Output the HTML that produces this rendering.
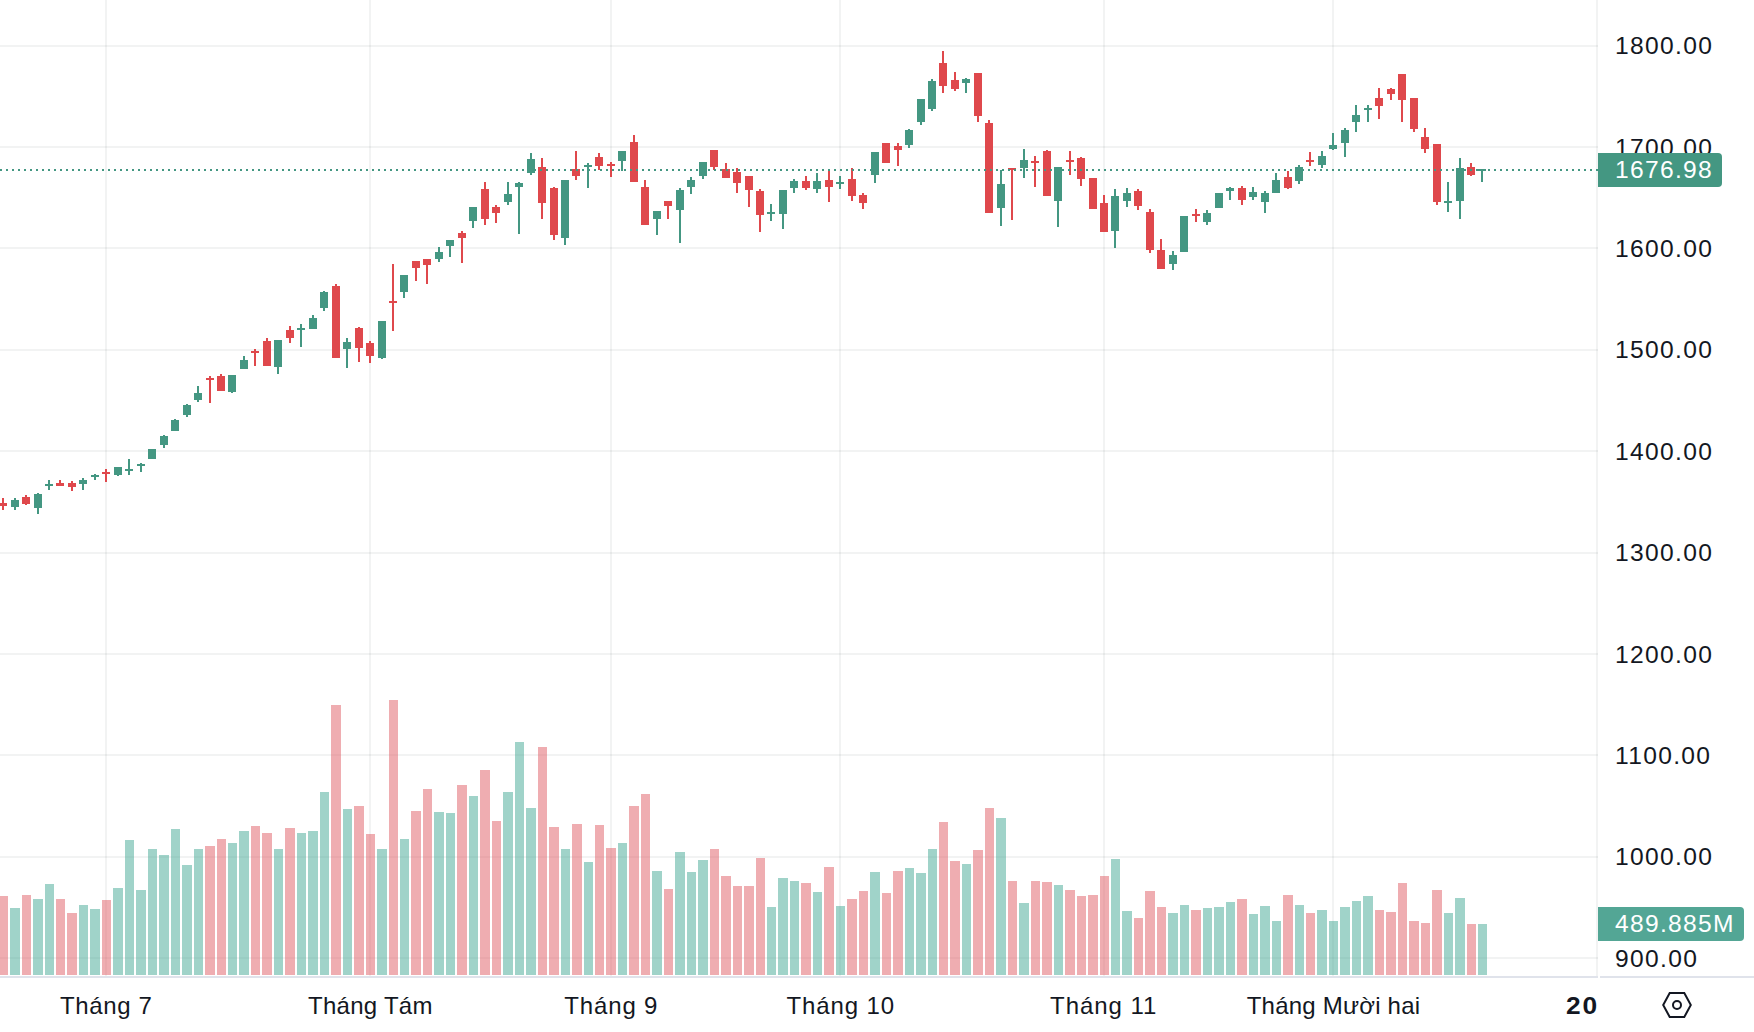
<!DOCTYPE html>
<html lang="vi"><head><meta charset="utf-8"><title>Chart</title>
<style>
html,body{margin:0;padding:0;background:#fff;}
body{width:1754px;height:1032px;position:relative;overflow:hidden;font-family:"Liberation Sans",Arial,sans-serif;color:#131722;}
.pl{position:absolute;left:1615.1px;height:30px;line-height:30px;font-size:24.6px;letter-spacing:1.31px;white-space:nowrap;}
.tl{position:absolute;top:991px;width:300px;text-align:center;height:30px;line-height:30px;font-size:24px;letter-spacing:0.6px;white-space:nowrap;}
.box{position:absolute;left:1598px;height:34px;line-height:34px;border-radius:0 4px 4px 0;color:#fff;font-size:24.6px;letter-spacing:1.31px;white-space:nowrap;box-sizing:border-box;padding-left:17px;}
.b1{top:153px;width:124px;background:rgb(68,151,130);}
.b2{top:907px;width:146px;background:rgb(83,166,149);}
.yr{position:absolute;top:991px;left:1566px;height:30px;line-height:30px;font-size:24.6px;font-weight:bold;letter-spacing:1.8px;transform:scaleX(1.07);transform-origin:0 50%;white-space:nowrap;}
</style></head><body>
<svg width="1754" height="1032" viewBox="0 0 1754 1032" shape-rendering="crispEdges" style="position:absolute;left:0;top:0">
<g fill="rgba(42,46,57,0.06)">
<rect x="0" y="45" width="1598" height="2"/>
<rect x="0" y="146" width="1598" height="2"/>
<rect x="0" y="247" width="1598" height="2"/>
<rect x="0" y="349" width="1598" height="2"/>
<rect x="0" y="450" width="1598" height="2"/>
<rect x="0" y="552" width="1598" height="2"/>
<rect x="0" y="653" width="1598" height="2"/>
<rect x="0" y="754" width="1598" height="2"/>
<rect x="0" y="856" width="1598" height="2"/>
<rect x="0" y="957" width="1598" height="2"/>
<rect x="105" y="0" width="2" height="976"/>
<rect x="369" y="0" width="2" height="976"/>
<rect x="610" y="0" width="2" height="976"/>
<rect x="839" y="0" width="2" height="976"/>
<rect x="1103" y="0" width="2" height="976"/>
<rect x="1332" y="0" width="2" height="976"/>
</g>
<g fill="rgba(65,167,147,0.5)"><rect x="10" y="908" width="10" height="67"/><rect x="33" y="899" width="10" height="76"/><rect x="45" y="884" width="9" height="91"/><rect x="79" y="905" width="9" height="70"/><rect x="90" y="909" width="10" height="66"/><rect x="113" y="888" width="10" height="87"/><rect x="125" y="840" width="9" height="135"/><rect x="136" y="890" width="10" height="85"/><rect x="148" y="849" width="9" height="126"/><rect x="159" y="855" width="10" height="120"/><rect x="171" y="829" width="9" height="146"/><rect x="182" y="865" width="10" height="110"/><rect x="194" y="849" width="9" height="126"/><rect x="228" y="843" width="9" height="132"/><rect x="239" y="831" width="10" height="144"/><rect x="274" y="849" width="9" height="126"/><rect x="297" y="833" width="9" height="142"/><rect x="308" y="831" width="10" height="144"/><rect x="320" y="792" width="9" height="183"/><rect x="343" y="809" width="9" height="166"/><rect x="377" y="849" width="10" height="126"/><rect x="400" y="839" width="9" height="136"/><rect x="434" y="812" width="10" height="163"/><rect x="446" y="813" width="9" height="162"/><rect x="469" y="796" width="9" height="179"/><rect x="503" y="792" width="10" height="183"/><rect x="515" y="742" width="9" height="233"/><rect x="526" y="808" width="10" height="167"/><rect x="561" y="849" width="9" height="126"/><rect x="584" y="862" width="9" height="113"/><rect x="618" y="843" width="9" height="132"/><rect x="652" y="871" width="10" height="104"/><rect x="675" y="852" width="10" height="123"/><rect x="687" y="872" width="9" height="103"/><rect x="698" y="860" width="10" height="115"/><rect x="767" y="907" width="9" height="68"/><rect x="778" y="878" width="10" height="97"/><rect x="790" y="881" width="9" height="94"/><rect x="813" y="892" width="9" height="83"/><rect x="836" y="906" width="9" height="69"/><rect x="870" y="872" width="10" height="103"/><rect x="905" y="868" width="9" height="107"/><rect x="916" y="873" width="10" height="102"/><rect x="928" y="849" width="9" height="126"/><rect x="962" y="864" width="9" height="111"/><rect x="996" y="818" width="10" height="157"/><rect x="1019" y="903" width="10" height="72"/><rect x="1054" y="885" width="9" height="90"/><rect x="1111" y="859" width="9" height="116"/><rect x="1122" y="911" width="10" height="64"/><rect x="1168" y="913" width="10" height="62"/><rect x="1180" y="905" width="9" height="70"/><rect x="1203" y="908" width="9" height="67"/><rect x="1214" y="907" width="10" height="68"/><rect x="1226" y="902" width="9" height="73"/><rect x="1249" y="914" width="9" height="61"/><rect x="1260" y="906" width="10" height="69"/><rect x="1272" y="921" width="9" height="54"/><rect x="1295" y="905" width="9" height="70"/><rect x="1317" y="910" width="10" height="65"/><rect x="1329" y="921" width="9" height="54"/><rect x="1340" y="907" width="10" height="68"/><rect x="1352" y="901" width="9" height="74"/><rect x="1363" y="896" width="10" height="79"/><rect x="1444" y="913" width="9" height="62"/><rect x="1455" y="898" width="10" height="77"/><rect x="1478" y="924" width="9" height="51"/></g>
<g fill="rgba(223,91,99,0.5)"><rect x="-1" y="896" width="9" height="79"/><rect x="22" y="895" width="9" height="80"/><rect x="56" y="899" width="9" height="76"/><rect x="67" y="913" width="10" height="62"/><rect x="102" y="900" width="9" height="75"/><rect x="205" y="846" width="10" height="129"/><rect x="217" y="839" width="9" height="136"/><rect x="251" y="826" width="9" height="149"/><rect x="262" y="833" width="10" height="142"/><rect x="285" y="828" width="10" height="147"/><rect x="331" y="705" width="10" height="270"/><rect x="354" y="806" width="10" height="169"/><rect x="366" y="834" width="9" height="141"/><rect x="389" y="700" width="9" height="275"/><rect x="411" y="811" width="10" height="164"/><rect x="423" y="789" width="9" height="186"/><rect x="457" y="785" width="10" height="190"/><rect x="480" y="770" width="10" height="205"/><rect x="492" y="821" width="9" height="154"/><rect x="538" y="747" width="9" height="228"/><rect x="549" y="827" width="10" height="148"/><rect x="572" y="824" width="10" height="151"/><rect x="595" y="825" width="9" height="150"/><rect x="606" y="848" width="10" height="127"/><rect x="629" y="806" width="10" height="169"/><rect x="641" y="794" width="9" height="181"/><rect x="664" y="889" width="9" height="86"/><rect x="710" y="849" width="9" height="126"/><rect x="721" y="876" width="10" height="99"/><rect x="733" y="886" width="9" height="89"/><rect x="744" y="886" width="10" height="89"/><rect x="756" y="858" width="9" height="117"/><rect x="801" y="883" width="10" height="92"/><rect x="824" y="867" width="10" height="108"/><rect x="847" y="899" width="10" height="76"/><rect x="859" y="891" width="9" height="84"/><rect x="882" y="893" width="9" height="82"/><rect x="893" y="871" width="10" height="104"/><rect x="939" y="822" width="9" height="153"/><rect x="950" y="861" width="10" height="114"/><rect x="973" y="850" width="10" height="125"/><rect x="985" y="808" width="9" height="167"/><rect x="1008" y="881" width="9" height="94"/><rect x="1031" y="881" width="9" height="94"/><rect x="1042" y="882" width="10" height="93"/><rect x="1065" y="890" width="10" height="85"/><rect x="1077" y="896" width="9" height="79"/><rect x="1088" y="895" width="10" height="80"/><rect x="1100" y="876" width="9" height="99"/><rect x="1134" y="918" width="9" height="57"/><rect x="1145" y="891" width="10" height="84"/><rect x="1157" y="907" width="9" height="68"/><rect x="1191" y="910" width="10" height="65"/><rect x="1237" y="899" width="10" height="76"/><rect x="1283" y="895" width="10" height="80"/><rect x="1306" y="913" width="9" height="62"/><rect x="1375" y="910" width="9" height="65"/><rect x="1386" y="912" width="10" height="63"/><rect x="1398" y="883" width="9" height="92"/><rect x="1409" y="921" width="10" height="54"/><rect x="1421" y="923" width="9" height="52"/><rect x="1432" y="890" width="10" height="85"/><rect x="1467" y="924" width="9" height="51"/></g>
<g fill="rgb(68,151,130)"><rect x="14" y="498" width="2" height="12"/><rect x="11" y="500" width="8" height="7"/><rect x="37" y="493" width="2" height="21"/><rect x="34" y="494" width="8" height="14"/><rect x="48" y="480" width="2" height="10"/><rect x="45" y="484" width="8" height="2"/><rect x="82" y="478" width="2" height="12"/><rect x="79" y="480" width="8" height="4"/><rect x="94" y="474" width="2" height="6"/><rect x="91" y="475" width="8" height="2"/><rect x="117" y="467" width="2" height="9"/><rect x="114" y="467" width="8" height="8"/><rect x="128" y="459" width="2" height="16"/><rect x="125" y="469" width="8" height="2"/><rect x="140" y="463" width="2" height="9"/><rect x="137" y="464" width="8" height="2"/><rect x="151" y="449" width="2" height="10"/><rect x="148" y="449" width="8" height="10"/><rect x="163" y="435" width="2" height="13"/><rect x="160" y="436" width="8" height="9"/><rect x="174" y="419" width="2" height="12"/><rect x="171" y="420" width="8" height="11"/><rect x="186" y="404" width="2" height="13"/><rect x="183" y="405" width="8" height="10"/><rect x="197" y="386" width="2" height="16"/><rect x="194" y="393" width="8" height="7"/><rect x="231" y="375" width="2" height="18"/><rect x="228" y="375" width="8" height="17"/><rect x="243" y="356" width="2" height="13"/><rect x="240" y="360" width="8" height="9"/><rect x="277" y="340" width="2" height="34"/><rect x="274" y="340" width="8" height="27"/><rect x="300" y="324" width="2" height="23"/><rect x="297" y="328" width="8" height="2"/><rect x="312" y="315" width="2" height="14"/><rect x="309" y="318" width="8" height="11"/><rect x="323" y="291" width="2" height="20"/><rect x="320" y="292" width="8" height="16"/><rect x="346" y="338" width="2" height="30"/><rect x="343" y="342" width="8" height="7"/><rect x="381" y="321" width="2" height="38"/><rect x="378" y="321" width="8" height="37"/><rect x="403" y="275" width="2" height="23"/><rect x="400" y="275" width="8" height="17"/><rect x="438" y="247" width="2" height="15"/><rect x="435" y="252" width="8" height="7"/><rect x="449" y="240" width="2" height="17"/><rect x="446" y="240" width="8" height="6"/><rect x="472" y="207" width="2" height="21"/><rect x="469" y="207" width="8" height="14"/><rect x="507" y="182" width="2" height="23"/><rect x="504" y="194" width="8" height="8"/><rect x="518" y="182" width="2" height="52"/><rect x="515" y="183" width="8" height="4"/><rect x="530" y="153" width="2" height="22"/><rect x="527" y="159" width="8" height="14"/><rect x="564" y="180" width="2" height="65"/><rect x="561" y="180" width="8" height="58"/><rect x="587" y="163" width="2" height="25"/><rect x="584" y="165" width="8" height="2"/><rect x="621" y="151" width="2" height="20"/><rect x="618" y="151" width="8" height="10"/><rect x="656" y="211" width="2" height="24"/><rect x="653" y="211" width="8" height="8"/><rect x="679" y="188" width="2" height="55"/><rect x="676" y="190" width="8" height="20"/><rect x="690" y="177" width="2" height="17"/><rect x="687" y="180" width="8" height="7"/><rect x="702" y="162" width="2" height="17"/><rect x="699" y="162" width="8" height="14"/><rect x="770" y="204" width="2" height="17"/><rect x="767" y="212" width="8" height="2"/><rect x="782" y="190" width="2" height="39"/><rect x="779" y="190" width="8" height="24"/><rect x="793" y="179" width="2" height="14"/><rect x="790" y="181" width="8" height="7"/><rect x="816" y="173" width="2" height="20"/><rect x="813" y="181" width="8" height="8"/><rect x="839" y="176" width="2" height="13"/><rect x="836" y="182" width="8" height="2"/><rect x="874" y="152" width="2" height="31"/><rect x="871" y="152" width="8" height="23"/><rect x="908" y="129" width="2" height="19"/><rect x="905" y="130" width="8" height="15"/><rect x="920" y="99" width="2" height="26"/><rect x="917" y="99" width="8" height="23"/><rect x="931" y="79" width="2" height="32"/><rect x="928" y="81" width="8" height="28"/><rect x="965" y="78" width="2" height="15"/><rect x="962" y="79" width="8" height="4"/><rect x="1000" y="170" width="2" height="56"/><rect x="997" y="184" width="8" height="24"/><rect x="1023" y="149" width="2" height="29"/><rect x="1020" y="160" width="8" height="8"/><rect x="1057" y="167" width="2" height="60"/><rect x="1054" y="167" width="8" height="34"/><rect x="1114" y="189" width="2" height="59"/><rect x="1111" y="196" width="8" height="35"/><rect x="1126" y="188" width="2" height="19"/><rect x="1123" y="193" width="8" height="8"/><rect x="1172" y="251" width="2" height="19"/><rect x="1169" y="255" width="8" height="9"/><rect x="1183" y="216" width="2" height="36"/><rect x="1180" y="216" width="8" height="36"/><rect x="1206" y="210" width="2" height="15"/><rect x="1203" y="213" width="8" height="9"/><rect x="1218" y="193" width="2" height="15"/><rect x="1215" y="193" width="8" height="15"/><rect x="1229" y="187" width="2" height="13"/><rect x="1226" y="188" width="8" height="3"/><rect x="1252" y="187" width="2" height="13"/><rect x="1249" y="192" width="8" height="5"/><rect x="1264" y="191" width="2" height="22"/><rect x="1261" y="193" width="8" height="9"/><rect x="1275" y="173" width="2" height="20"/><rect x="1272" y="180" width="8" height="13"/><rect x="1298" y="165" width="2" height="19"/><rect x="1295" y="167" width="8" height="14"/><rect x="1321" y="151" width="2" height="17"/><rect x="1318" y="156" width="8" height="9"/><rect x="1332" y="133" width="2" height="17"/><rect x="1329" y="145" width="8" height="4"/><rect x="1344" y="128" width="2" height="29"/><rect x="1341" y="130" width="8" height="13"/><rect x="1355" y="105" width="2" height="27"/><rect x="1352" y="115" width="8" height="7"/><rect x="1367" y="105" width="2" height="17"/><rect x="1364" y="108" width="8" height="2"/><rect x="1447" y="182" width="2" height="30"/><rect x="1444" y="201" width="8" height="2"/><rect x="1459" y="158" width="2" height="61"/><rect x="1456" y="168" width="8" height="33"/><rect x="1481" y="169" width="2" height="13"/><rect x="1478" y="169" width="8" height="2"/></g>
<g fill="rgb(223,72,76)"><rect x="2" y="498" width="2" height="12"/><rect x="-1" y="503" width="8" height="3"/><rect x="25" y="495" width="2" height="10"/><rect x="22" y="497" width="8" height="7"/><rect x="59" y="480" width="2" height="6"/><rect x="56" y="483" width="8" height="3"/><rect x="71" y="481" width="2" height="10"/><rect x="68" y="483" width="8" height="4"/><rect x="105" y="469" width="2" height="13"/><rect x="102" y="472" width="8" height="2"/><rect x="209" y="376" width="2" height="27"/><rect x="206" y="378" width="8" height="2"/><rect x="220" y="374" width="2" height="17"/><rect x="217" y="376" width="8" height="15"/><rect x="254" y="349" width="2" height="17"/><rect x="251" y="351" width="8" height="2"/><rect x="266" y="338" width="2" height="28"/><rect x="263" y="341" width="8" height="25"/><rect x="289" y="326" width="2" height="17"/><rect x="286" y="330" width="8" height="8"/><rect x="335" y="284" width="2" height="74"/><rect x="332" y="286" width="8" height="72"/><rect x="358" y="327" width="2" height="35"/><rect x="355" y="328" width="8" height="20"/><rect x="369" y="341" width="2" height="22"/><rect x="366" y="343" width="8" height="13"/><rect x="392" y="264" width="2" height="67"/><rect x="389" y="301" width="8" height="2"/><rect x="415" y="261" width="2" height="20"/><rect x="412" y="261" width="8" height="7"/><rect x="426" y="259" width="2" height="25"/><rect x="423" y="259" width="8" height="6"/><rect x="461" y="231" width="2" height="32"/><rect x="458" y="233" width="8" height="5"/><rect x="484" y="182" width="2" height="43"/><rect x="481" y="189" width="8" height="30"/><rect x="495" y="205" width="2" height="18"/><rect x="492" y="207" width="8" height="6"/><rect x="541" y="158" width="2" height="61"/><rect x="538" y="167" width="8" height="36"/><rect x="553" y="187" width="2" height="53"/><rect x="550" y="188" width="8" height="47"/><rect x="575" y="151" width="2" height="29"/><rect x="572" y="169" width="8" height="7"/><rect x="598" y="153" width="2" height="17"/><rect x="595" y="157" width="8" height="9"/><rect x="610" y="162" width="2" height="15"/><rect x="607" y="164" width="8" height="2"/><rect x="633" y="135" width="2" height="47"/><rect x="630" y="142" width="8" height="40"/><rect x="644" y="180" width="2" height="45"/><rect x="641" y="187" width="8" height="38"/><rect x="667" y="201" width="2" height="18"/><rect x="664" y="201" width="8" height="5"/><rect x="713" y="150" width="2" height="20"/><rect x="710" y="150" width="8" height="17"/><rect x="725" y="163" width="2" height="15"/><rect x="722" y="169" width="8" height="9"/><rect x="736" y="168" width="2" height="25"/><rect x="733" y="172" width="8" height="11"/><rect x="748" y="176" width="2" height="31"/><rect x="745" y="176" width="8" height="14"/><rect x="759" y="189" width="2" height="43"/><rect x="756" y="191" width="8" height="24"/><rect x="805" y="176" width="2" height="14"/><rect x="802" y="181" width="8" height="7"/><rect x="828" y="169" width="2" height="33"/><rect x="825" y="180" width="8" height="7"/><rect x="851" y="168" width="2" height="33"/><rect x="848" y="179" width="8" height="17"/><rect x="862" y="193" width="2" height="16"/><rect x="859" y="195" width="8" height="8"/><rect x="885" y="143" width="2" height="20"/><rect x="882" y="143" width="8" height="20"/><rect x="897" y="143" width="2" height="23"/><rect x="894" y="146" width="8" height="4"/><rect x="942" y="51" width="2" height="42"/><rect x="939" y="63" width="8" height="23"/><rect x="954" y="72" width="2" height="19"/><rect x="951" y="80" width="8" height="9"/><rect x="977" y="73" width="2" height="49"/><rect x="974" y="73" width="8" height="43"/><rect x="988" y="120" width="2" height="93"/><rect x="985" y="123" width="8" height="90"/><rect x="1011" y="168" width="2" height="52"/><rect x="1008" y="168" width="8" height="2"/><rect x="1034" y="156" width="2" height="31"/><rect x="1031" y="161" width="8" height="2"/><rect x="1046" y="150" width="2" height="46"/><rect x="1043" y="151" width="8" height="45"/><rect x="1069" y="151" width="2" height="24"/><rect x="1066" y="160" width="8" height="2"/><rect x="1080" y="157" width="2" height="29"/><rect x="1077" y="158" width="8" height="21"/><rect x="1092" y="178" width="2" height="31"/><rect x="1089" y="178" width="8" height="31"/><rect x="1103" y="195" width="2" height="37"/><rect x="1100" y="203" width="8" height="29"/><rect x="1137" y="189" width="2" height="21"/><rect x="1134" y="191" width="8" height="15"/><rect x="1149" y="209" width="2" height="44"/><rect x="1146" y="212" width="8" height="38"/><rect x="1160" y="239" width="2" height="30"/><rect x="1157" y="250" width="8" height="19"/><rect x="1195" y="209" width="2" height="13"/><rect x="1192" y="214" width="8" height="2"/><rect x="1241" y="186" width="2" height="19"/><rect x="1238" y="188" width="8" height="12"/><rect x="1287" y="171" width="2" height="18"/><rect x="1284" y="177" width="8" height="11"/><rect x="1309" y="152" width="2" height="14"/><rect x="1306" y="160" width="8" height="2"/><rect x="1378" y="88" width="2" height="31"/><rect x="1375" y="98" width="8" height="8"/><rect x="1390" y="88" width="2" height="12"/><rect x="1387" y="89" width="8" height="5"/><rect x="1401" y="74" width="2" height="48"/><rect x="1398" y="74" width="8" height="26"/><rect x="1413" y="98" width="2" height="34"/><rect x="1410" y="98" width="8" height="31"/><rect x="1424" y="128" width="2" height="25"/><rect x="1421" y="137" width="8" height="12"/><rect x="1436" y="144" width="2" height="61"/><rect x="1433" y="144" width="8" height="58"/><rect x="1470" y="163" width="2" height="13"/><rect x="1467" y="167" width="8" height="8"/></g>
<g fill="rgb(68,151,130)">
<rect x="0" y="169" width="2" height="2"/><rect x="6" y="169" width="2" height="2"/><rect x="12" y="169" width="2" height="2"/><rect x="18" y="169" width="2" height="2"/><rect x="24" y="169" width="2" height="2"/><rect x="30" y="169" width="2" height="2"/><rect x="36" y="169" width="2" height="2"/><rect x="42" y="169" width="2" height="2"/><rect x="48" y="169" width="2" height="2"/><rect x="54" y="169" width="2" height="2"/><rect x="60" y="169" width="2" height="2"/><rect x="66" y="169" width="2" height="2"/><rect x="72" y="169" width="2" height="2"/><rect x="78" y="169" width="2" height="2"/><rect x="84" y="169" width="2" height="2"/><rect x="90" y="169" width="2" height="2"/><rect x="96" y="169" width="2" height="2"/><rect x="102" y="169" width="2" height="2"/><rect x="108" y="169" width="2" height="2"/><rect x="114" y="169" width="2" height="2"/><rect x="120" y="169" width="2" height="2"/><rect x="126" y="169" width="2" height="2"/><rect x="132" y="169" width="2" height="2"/><rect x="138" y="169" width="2" height="2"/><rect x="144" y="169" width="2" height="2"/><rect x="150" y="169" width="2" height="2"/><rect x="156" y="169" width="2" height="2"/><rect x="162" y="169" width="2" height="2"/><rect x="168" y="169" width="2" height="2"/><rect x="174" y="169" width="2" height="2"/><rect x="180" y="169" width="2" height="2"/><rect x="186" y="169" width="2" height="2"/><rect x="192" y="169" width="2" height="2"/><rect x="198" y="169" width="2" height="2"/><rect x="204" y="169" width="2" height="2"/><rect x="210" y="169" width="2" height="2"/><rect x="216" y="169" width="2" height="2"/><rect x="222" y="169" width="2" height="2"/><rect x="228" y="169" width="2" height="2"/><rect x="234" y="169" width="2" height="2"/><rect x="240" y="169" width="2" height="2"/><rect x="246" y="169" width="2" height="2"/><rect x="252" y="169" width="2" height="2"/><rect x="258" y="169" width="2" height="2"/><rect x="264" y="169" width="2" height="2"/><rect x="270" y="169" width="2" height="2"/><rect x="276" y="169" width="2" height="2"/><rect x="282" y="169" width="2" height="2"/><rect x="288" y="169" width="2" height="2"/><rect x="294" y="169" width="2" height="2"/><rect x="300" y="169" width="2" height="2"/><rect x="306" y="169" width="2" height="2"/><rect x="312" y="169" width="2" height="2"/><rect x="318" y="169" width="2" height="2"/><rect x="324" y="169" width="2" height="2"/><rect x="330" y="169" width="2" height="2"/><rect x="336" y="169" width="2" height="2"/><rect x="342" y="169" width="2" height="2"/><rect x="348" y="169" width="2" height="2"/><rect x="354" y="169" width="2" height="2"/><rect x="360" y="169" width="2" height="2"/><rect x="366" y="169" width="2" height="2"/><rect x="372" y="169" width="2" height="2"/><rect x="378" y="169" width="2" height="2"/><rect x="384" y="169" width="2" height="2"/><rect x="390" y="169" width="2" height="2"/><rect x="396" y="169" width="2" height="2"/><rect x="402" y="169" width="2" height="2"/><rect x="408" y="169" width="2" height="2"/><rect x="414" y="169" width="2" height="2"/><rect x="420" y="169" width="2" height="2"/><rect x="426" y="169" width="2" height="2"/><rect x="432" y="169" width="2" height="2"/><rect x="438" y="169" width="2" height="2"/><rect x="444" y="169" width="2" height="2"/><rect x="450" y="169" width="2" height="2"/><rect x="456" y="169" width="2" height="2"/><rect x="462" y="169" width="2" height="2"/><rect x="468" y="169" width="2" height="2"/><rect x="474" y="169" width="2" height="2"/><rect x="480" y="169" width="2" height="2"/><rect x="486" y="169" width="2" height="2"/><rect x="492" y="169" width="2" height="2"/><rect x="498" y="169" width="2" height="2"/><rect x="504" y="169" width="2" height="2"/><rect x="510" y="169" width="2" height="2"/><rect x="516" y="169" width="2" height="2"/><rect x="522" y="169" width="2" height="2"/><rect x="528" y="169" width="2" height="2"/><rect x="534" y="169" width="2" height="2"/><rect x="540" y="169" width="2" height="2"/><rect x="546" y="169" width="2" height="2"/><rect x="552" y="169" width="2" height="2"/><rect x="558" y="169" width="2" height="2"/><rect x="564" y="169" width="2" height="2"/><rect x="570" y="169" width="2" height="2"/><rect x="576" y="169" width="2" height="2"/><rect x="582" y="169" width="2" height="2"/><rect x="588" y="169" width="2" height="2"/><rect x="594" y="169" width="2" height="2"/><rect x="600" y="169" width="2" height="2"/><rect x="606" y="169" width="2" height="2"/><rect x="612" y="169" width="2" height="2"/><rect x="618" y="169" width="2" height="2"/><rect x="624" y="169" width="2" height="2"/><rect x="630" y="169" width="2" height="2"/><rect x="636" y="169" width="2" height="2"/><rect x="642" y="169" width="2" height="2"/><rect x="648" y="169" width="2" height="2"/><rect x="654" y="169" width="2" height="2"/><rect x="660" y="169" width="2" height="2"/><rect x="666" y="169" width="2" height="2"/><rect x="672" y="169" width="2" height="2"/><rect x="678" y="169" width="2" height="2"/><rect x="684" y="169" width="2" height="2"/><rect x="690" y="169" width="2" height="2"/><rect x="696" y="169" width="2" height="2"/><rect x="702" y="169" width="2" height="2"/><rect x="708" y="169" width="2" height="2"/><rect x="714" y="169" width="2" height="2"/><rect x="720" y="169" width="2" height="2"/><rect x="726" y="169" width="2" height="2"/><rect x="732" y="169" width="2" height="2"/><rect x="738" y="169" width="2" height="2"/><rect x="744" y="169" width="2" height="2"/><rect x="750" y="169" width="2" height="2"/><rect x="756" y="169" width="2" height="2"/><rect x="762" y="169" width="2" height="2"/><rect x="768" y="169" width="2" height="2"/><rect x="774" y="169" width="2" height="2"/><rect x="780" y="169" width="2" height="2"/><rect x="786" y="169" width="2" height="2"/><rect x="792" y="169" width="2" height="2"/><rect x="798" y="169" width="2" height="2"/><rect x="804" y="169" width="2" height="2"/><rect x="810" y="169" width="2" height="2"/><rect x="816" y="169" width="2" height="2"/><rect x="822" y="169" width="2" height="2"/><rect x="828" y="169" width="2" height="2"/><rect x="834" y="169" width="2" height="2"/><rect x="840" y="169" width="2" height="2"/><rect x="846" y="169" width="2" height="2"/><rect x="852" y="169" width="2" height="2"/><rect x="858" y="169" width="2" height="2"/><rect x="864" y="169" width="2" height="2"/><rect x="870" y="169" width="2" height="2"/><rect x="876" y="169" width="2" height="2"/><rect x="882" y="169" width="2" height="2"/><rect x="888" y="169" width="2" height="2"/><rect x="894" y="169" width="2" height="2"/><rect x="900" y="169" width="2" height="2"/><rect x="906" y="169" width="2" height="2"/><rect x="912" y="169" width="2" height="2"/><rect x="918" y="169" width="2" height="2"/><rect x="924" y="169" width="2" height="2"/><rect x="930" y="169" width="2" height="2"/><rect x="936" y="169" width="2" height="2"/><rect x="942" y="169" width="2" height="2"/><rect x="948" y="169" width="2" height="2"/><rect x="954" y="169" width="2" height="2"/><rect x="960" y="169" width="2" height="2"/><rect x="966" y="169" width="2" height="2"/><rect x="972" y="169" width="2" height="2"/><rect x="978" y="169" width="2" height="2"/><rect x="984" y="169" width="2" height="2"/><rect x="990" y="169" width="2" height="2"/><rect x="996" y="169" width="2" height="2"/><rect x="1002" y="169" width="2" height="2"/><rect x="1008" y="169" width="2" height="2"/><rect x="1014" y="169" width="2" height="2"/><rect x="1020" y="169" width="2" height="2"/><rect x="1026" y="169" width="2" height="2"/><rect x="1032" y="169" width="2" height="2"/><rect x="1038" y="169" width="2" height="2"/><rect x="1044" y="169" width="2" height="2"/><rect x="1050" y="169" width="2" height="2"/><rect x="1056" y="169" width="2" height="2"/><rect x="1062" y="169" width="2" height="2"/><rect x="1068" y="169" width="2" height="2"/><rect x="1074" y="169" width="2" height="2"/><rect x="1080" y="169" width="2" height="2"/><rect x="1086" y="169" width="2" height="2"/><rect x="1092" y="169" width="2" height="2"/><rect x="1098" y="169" width="2" height="2"/><rect x="1104" y="169" width="2" height="2"/><rect x="1110" y="169" width="2" height="2"/><rect x="1116" y="169" width="2" height="2"/><rect x="1122" y="169" width="2" height="2"/><rect x="1128" y="169" width="2" height="2"/><rect x="1134" y="169" width="2" height="2"/><rect x="1140" y="169" width="2" height="2"/><rect x="1146" y="169" width="2" height="2"/><rect x="1152" y="169" width="2" height="2"/><rect x="1158" y="169" width="2" height="2"/><rect x="1164" y="169" width="2" height="2"/><rect x="1170" y="169" width="2" height="2"/><rect x="1176" y="169" width="2" height="2"/><rect x="1182" y="169" width="2" height="2"/><rect x="1188" y="169" width="2" height="2"/><rect x="1194" y="169" width="2" height="2"/><rect x="1200" y="169" width="2" height="2"/><rect x="1206" y="169" width="2" height="2"/><rect x="1212" y="169" width="2" height="2"/><rect x="1218" y="169" width="2" height="2"/><rect x="1224" y="169" width="2" height="2"/><rect x="1230" y="169" width="2" height="2"/><rect x="1236" y="169" width="2" height="2"/><rect x="1242" y="169" width="2" height="2"/><rect x="1248" y="169" width="2" height="2"/><rect x="1254" y="169" width="2" height="2"/><rect x="1260" y="169" width="2" height="2"/><rect x="1266" y="169" width="2" height="2"/><rect x="1272" y="169" width="2" height="2"/><rect x="1278" y="169" width="2" height="2"/><rect x="1284" y="169" width="2" height="2"/><rect x="1290" y="169" width="2" height="2"/><rect x="1296" y="169" width="2" height="2"/><rect x="1302" y="169" width="2" height="2"/><rect x="1308" y="169" width="2" height="2"/><rect x="1314" y="169" width="2" height="2"/><rect x="1320" y="169" width="2" height="2"/><rect x="1326" y="169" width="2" height="2"/><rect x="1332" y="169" width="2" height="2"/><rect x="1338" y="169" width="2" height="2"/><rect x="1344" y="169" width="2" height="2"/><rect x="1350" y="169" width="2" height="2"/><rect x="1356" y="169" width="2" height="2"/><rect x="1362" y="169" width="2" height="2"/><rect x="1368" y="169" width="2" height="2"/><rect x="1374" y="169" width="2" height="2"/><rect x="1380" y="169" width="2" height="2"/><rect x="1386" y="169" width="2" height="2"/><rect x="1392" y="169" width="2" height="2"/><rect x="1398" y="169" width="2" height="2"/><rect x="1404" y="169" width="2" height="2"/><rect x="1410" y="169" width="2" height="2"/><rect x="1416" y="169" width="2" height="2"/><rect x="1422" y="169" width="2" height="2"/><rect x="1428" y="169" width="2" height="2"/><rect x="1434" y="169" width="2" height="2"/><rect x="1440" y="169" width="2" height="2"/><rect x="1446" y="169" width="2" height="2"/><rect x="1452" y="169" width="2" height="2"/><rect x="1458" y="169" width="2" height="2"/><rect x="1464" y="169" width="2" height="2"/><rect x="1470" y="169" width="2" height="2"/><rect x="1476" y="169" width="2" height="2"/><rect x="1482" y="169" width="2" height="2"/><rect x="1488" y="169" width="2" height="2"/><rect x="1494" y="169" width="2" height="2"/><rect x="1500" y="169" width="2" height="2"/><rect x="1506" y="169" width="2" height="2"/><rect x="1512" y="169" width="2" height="2"/><rect x="1518" y="169" width="2" height="2"/><rect x="1524" y="169" width="2" height="2"/><rect x="1530" y="169" width="2" height="2"/><rect x="1536" y="169" width="2" height="2"/><rect x="1542" y="169" width="2" height="2"/><rect x="1548" y="169" width="2" height="2"/><rect x="1554" y="169" width="2" height="2"/><rect x="1560" y="169" width="2" height="2"/><rect x="1566" y="169" width="2" height="2"/><rect x="1572" y="169" width="2" height="2"/><rect x="1578" y="169" width="2" height="2"/><rect x="1584" y="169" width="2" height="2"/><rect x="1590" y="169" width="2" height="2"/>
<rect x="1596" y="169" width="2" height="2"/>
</g>
<rect x="1596" y="0" width="2" height="976" fill="rgba(42,46,57,0.06)"/>
<rect x="1596" y="169" width="2" height="2" fill="rgb(68,151,130)"/>
<rect x="0" y="976" width="1598" height="2" fill="#e0e3eb"/>
<rect x="1600" y="976" width="154" height="2" fill="#e0e3eb"/>
</svg>
<div class="pl" style="top:31px">1800.00</div>
<div class="pl" style="top:133px">1700.00</div>
<div class="pl" style="top:234px">1600.00</div>
<div class="pl" style="top:335px">1500.00</div>
<div class="pl" style="top:437px">1400.00</div>
<div class="pl" style="top:538px">1300.00</div>
<div class="pl" style="top:640px">1200.00</div>
<div class="pl" style="top:741px">1100.00</div>
<div class="pl" style="top:842px">1000.00</div>
<div class="pl" style="top:944px">900.00</div>
<div class="tl" style="left:-43.7px;letter-spacing:0.65px">Tháng 7</div>
<div class="tl" style="left:220.4px;letter-spacing:0.25px">Tháng Tám</div>
<div class="tl" style="left:461.3px;letter-spacing:0.85px">Tháng 9</div>
<div class="tl" style="left:690.7px;letter-spacing:0.90px">Tháng 10</div>
<div class="tl" style="left:953.7px;letter-spacing:0.95px">Tháng 11</div>
<div class="tl" style="left:1183.5px;letter-spacing:0.22px">Tháng Mười hai</div>
<div class="box b1">1676.98</div>
<div class="box b2">489.885M</div>
<div class="yr">20</div>
<svg width="40" height="36" viewBox="1657 987 40 36" style="position:absolute;left:1657px;top:987px">
<polygon points="1663.2,1005 1669.7,993 1684.3,993 1690.8,1005 1684.3,1017 1669.7,1017" fill="none" stroke="#131722" stroke-width="2" stroke-linejoin="miter"/>
<circle cx="1677" cy="1005" r="4" fill="none" stroke="#131722" stroke-width="2"/>
</svg>
</body></html>
